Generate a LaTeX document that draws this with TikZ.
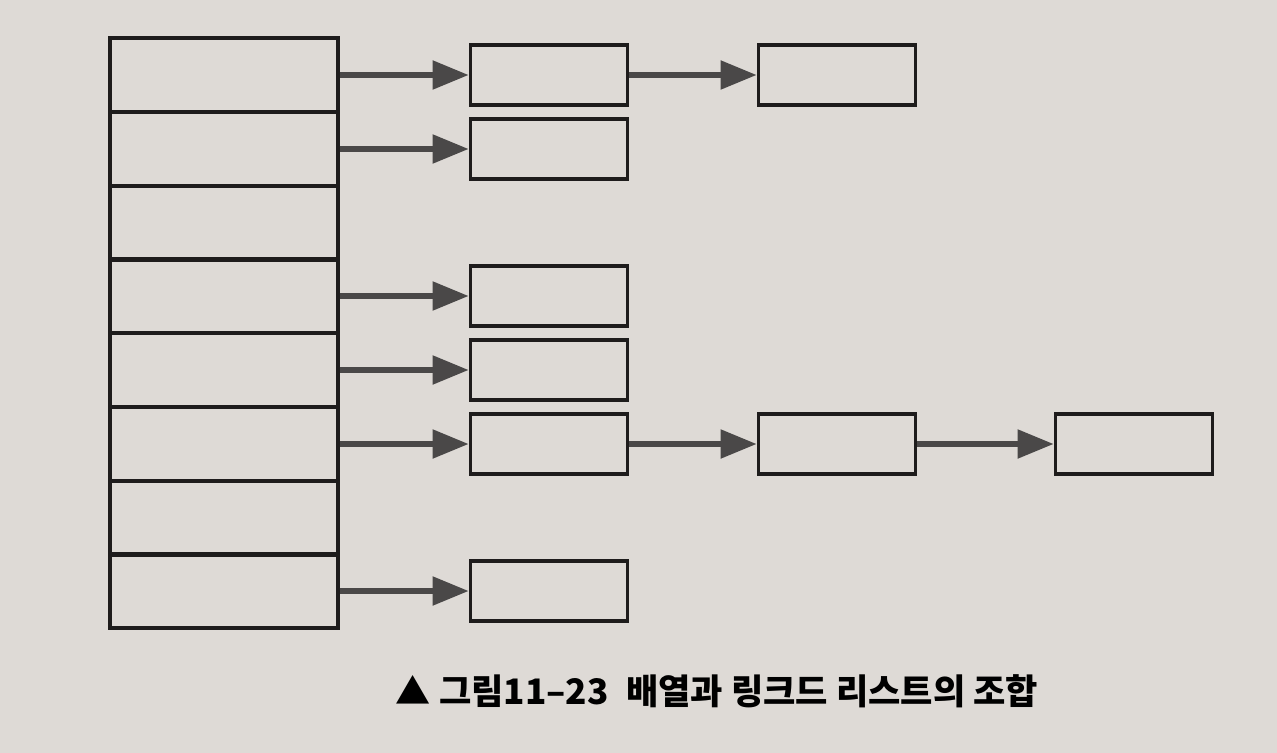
\documentclass[tikz,border=0pt]{standalone}
\usepackage{fontspec}
\newfontfamily\krfont{Noto Sans CJK KR}
\usetikzlibrary{arrows.meta}
\definecolor{paper}{HTML}{DEDAD6}
\definecolor{ink}{HTML}{1E1C1C}
\definecolor{pointer}{HTML}{4A4848}

\begin{document}
\begin{tikzpicture}[
            x = 0.02cm, y = -0.02cm, % one unit per pixel
            > = {Triangle[length=0.72cm, width=0.56cm]}, % arrow head style
            line width = 1.9pt % line style
        ]

        \tikzstyle{cell}=[
            draw = ink,
            minimum width = 4.56cm,
            minimum height = 1.475cm,
            inner sep = 0pt
        ]
        \tikzstyle{item}=[
            draw = ink,
            minimum width = 3.15cm,
            minimum height = 1.2cm,
            inner sep = 0pt
        ]
        \tikzstyle{link}=[
            ->,
            draw = pointer,
            fill = pointer,
            line width = 3pt
        ]

        \fill[paper] (0,0) rectangle (1277,753);
        \useasboundingbox (0,0) rectangle (1277,753);

        % the array
        \node (a0) [cell] at (224,75) {};
        \node (a1) [cell] at (224,149) {};
        \node (a2) [cell] at (224,223) {};
        \node (a3) [cell] at (224,296) {};
        \node (a4) [cell] at (224,370) {};
        \node (a5) [cell] at (224,444) {};
        \node (a6) [cell] at (224,518) {};
        \node (a7) [cell] at (224,591) {};

        % the lists
        \node (l0) [item] at (549,75) {};
        \node (m0) [item] at (837,75) {};
        \node (l1) [item] at (549,149) {};
        \node (l3) [item] at (549,296) {};
        \node (l4) [item] at (549,370) {};
        \node (l5) [item] at (549,444) {};
        \node (m5) [item] at (837,444) {};
        \node (n5) [item] at (1134,444) {};
        \node (l7) [item] at (549,591) {};

        \path[link] (a0) edge (l0);
        \path[link] (l0) edge (m0);
        \path[link] (a1) edge (l1);
        \path[link] (a3) edge (l3);
        \path[link] (a4) edge (l4);
        \path[link] (a5) edge (l5);
        \path[link] (l5) edge (m5);
        \path[link] (m5) edge (n5);
        \path[link] (a7) edge (l7);

        \node (cap) at (717,691) {\krfont\bfseries\fontsize{20}{22}\selectfont ▲ 그림11–23\enspace 배열과 링크드 리스트의 조합};

    \end{tikzpicture}
\end{document}
